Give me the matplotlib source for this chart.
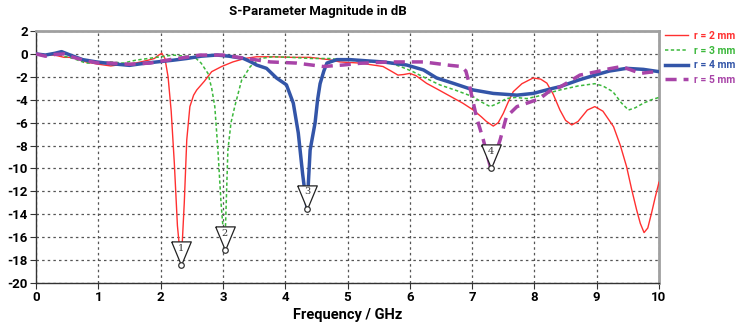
import matplotlib
matplotlib.use("Agg")
import matplotlib.pyplot as plt
from matplotlib import font_manager

# ---------------- data ----------------
red_f = [0, 0.15, 0.3, 0.45, 0.6, 0.8, 1.0, 1.2, 1.4, 1.6, 1.8, 1.9, 1.97, 2.02, 2.07, 2.12, 2.17, 2.22, 2.27, 2.33,
         2.38, 2.42, 2.47, 2.53, 2.58, 2.7, 2.82, 2.98, 3.16, 3.35, 3.54, 3.8, 4.1, 4.4, 4.7, 4.88, 5.2, 5.57, 5.7,
         5.81, 5.9, 6.0, 6.1, 6.27, 6.45, 6.65, 6.85, 7.02, 7.15, 7.23, 7.34, 7.42, 7.5, 7.58, 7.66, 7.8, 7.98, 8.1,
         8.2, 8.3, 8.41, 8.5, 8.6, 8.7, 8.85, 8.97, 9.1, 9.27, 9.38, 9.48, 9.56, 9.64, 9.7, 9.76, 9.82, 9.88, 9.94, 10.0]
red_db = [0, -0.1, -0.1, -0.3, -0.3, -0.7, -0.9, -1.05, -0.9, -0.8, -0.55, -0.4, -0.1, 0.05, -0.4, -2.0, -5.0, -9.5,
          -15.0, -18.4, -13.0, -7.5, -4.6, -3.6, -3.15, -2.4, -1.55, -1.1, -0.7, -0.4, -0.25, -0.25, -0.3, -0.3, -0.5,
          -0.7, -0.8, -1.1, -1.5, -1.85, -1.8, -1.7, -1.9, -2.57, -3.1, -3.7, -4.3, -4.9, -5.5, -5.9, -6.3, -6.0, -5.2,
          -4.2, -3.3, -2.6, -2.1, -2.2, -2.55, -3.5, -4.9, -5.8, -6.2, -5.9, -4.9, -4.6, -5.0, -6.35, -8.0, -9.85,
          -11.8, -13.6, -14.8, -15.6, -15.2, -13.9, -12.5, -11.2]

green_f = [0, 0.15, 0.3, 0.45, 0.6, 0.8, 1.0, 1.2, 1.4, 1.6, 1.8, 2.0, 2.2, 2.4, 2.55, 2.65, 2.76, 2.82, 2.87, 2.92,
           2.97, 3.03, 3.08, 3.13, 3.19, 3.3, 3.44, 3.6, 3.8, 4.1, 4.4, 4.7, 4.88, 5.2, 5.68, 5.85, 6.05, 6.25, 6.48,
           6.75, 7.02, 7.15, 7.29, 7.42, 7.55, 7.7, 7.88, 8.05, 8.2, 8.41, 8.7, 8.97, 9.1, 9.26, 9.4, 9.51, 9.62, 9.75,
           9.88, 10.0]
green_db = [0, -0.1, 0.05, -0.2, -0.4, -0.8, -0.8, -0.7, -0.8, -0.55, -0.4, -0.25, -0.1, -0.2, -0.3, -0.8, -1.7, -3.0,
            -4.6, -8.4, -13.0, -17.1, -8.4, -6.0, -4.6, -2.3, -1.1, -0.4, -0.25, -0.3, -0.4, -0.4, -0.5, -0.6, -0.8,
            -1.1, -1.55, -2.1, -2.7, -3.2, -3.75, -4.2, -4.6, -4.3, -3.9, -3.8, -3.9, -3.7, -3.45, -3.15, -2.8, -2.6,
            -2.8, -3.3, -4.3, -4.9, -4.7, -4.3, -4.0, -3.8]

blue_f = [0, 0.15, 0.3, 0.41, 0.55, 0.75, 0.97, 1.2, 1.5, 1.7, 1.94, 2.2, 2.42, 2.65, 2.9, 3.1, 3.33, 3.45, 3.54, 3.7,
          3.86, 4.02, 4.13, 4.21, 4.28, 4.35, 4.4, 4.48, 4.52, 4.56, 4.62, 4.67, 4.83, 5.04, 5.3, 5.57, 5.95, 6.22,
          6.43, 6.7, 7.02, 7.34, 7.72, 7.98, 8.3, 8.41, 8.7, 8.97, 9.2, 9.48, 9.75, 10.0]
blue_db = [0, -0.1, 0.05, 0.2, -0.1, -0.5, -0.7, -0.85, -1.0, -0.85, -0.7, -0.55, -0.4, -0.2, -0.1, -0.2, -0.4, -0.7,
           -0.97, -1.26, -2.1, -2.7, -4.3, -6.9, -10.5, -13.5, -8.4, -6.0, -4.0, -2.6, -1.5, -0.8, -0.5, -0.5, -0.6,
           -0.7, -0.97, -1.4, -2.1, -2.57, -3.15, -3.45, -3.6, -3.45, -3.0, -2.86, -2.3, -1.85, -1.5, -1.26, -1.35,
           -1.55]

purple_f = [0, 0.15, 0.3, 0.45, 0.6, 0.8, 1.0, 1.2, 1.5, 1.83, 2.15, 2.4, 2.63, 3.0, 3.38, 3.76, 4.18, 4.61, 4.93,
            5.2, 5.68, 6.22, 6.65, 6.83, 6.9, 6.94, 7.0, 7.07, 7.18, 7.3, 7.45, 7.55, 7.72, 7.88, 8.09, 8.3, 8.41,
            8.73, 9.0, 9.2, 9.4, 9.55, 9.7, 9.85, 10.0]
purple_db = [0, -0.2, -0.05, 0.0, -0.3, -0.6, -0.8, -0.8, -0.9, -0.8, -0.5, -0.3, -0.1, -0.1, -0.4, -0.7, -0.8, -1.1,
             -0.97, -0.82, -0.7, -0.7, -1.0, -1.1, -1.5, -2.3, -3.8, -5.5, -7.5, -10.0, -7.5, -5.5, -4.6, -4.3, -3.9,
             -3.0, -2.9, -1.85, -1.55, -1.3, -1.1, -1.4, -1.7, -1.6, -1.55]

series_labels = ["r = 2 mm", "r = 3 mm", "r = 4 mm", "r = 5 mm"]

marker_f = [2.33, 3.03, 4.35, 7.30]
marker_db = [-18.4, -17.1, -13.5, -10.0]
marker_labels = ["1", "2", "3", "4"]

x_ticks = list(range(0, 11))
y_ticks = list(range(-20, 3, 2))

# ---------------- style ----------------
avail = {f.name for f in font_manager.fontManager.ttflist}
fam = "Roboto" if "Roboto" in avail else "DejaVu Sans"
plt.rcParams["font.family"] = [fam, "DejaVu Sans"]
plt.rcParams["axes.unicode_minus"] = False

fig = plt.figure(figsize=(7.44, 3.24), dpi=100)
ax = fig.add_axes([36 / 744, 41 / 324, 623 / 744, 252 / 324])

c_red = "#ff3030"
c_green = "#3cb83c"
c_blue = "#3355a8"
c_purple = "#a844a8"

l1, = ax.plot(red_f, red_db, color=c_red, lw=1.0, label=series_labels[0], zorder=3)
l2, = ax.plot(green_f, green_db, color=c_green, lw=1.1, ls=(0, (2.2, 1.6)), label=series_labels[1], zorder=3)
l3, = ax.plot(blue_f, blue_db, color=c_blue, lw=2.5, label=series_labels[2], zorder=3)
l4, = ax.plot(purple_f, purple_db, color=c_purple, lw=2.5, ls=(0, (3.2, 2.0)), label=series_labels[3], zorder=3)

# markers: triangle with tip at data point
tri = [(-0.83, 2.0), (0.83, 2.0), (0.0, 0.0), (-0.83, 2.0)]
for f, d, lab in zip(marker_f, marker_db, marker_labels):
    ax.plot([f], [d], marker=tri, markersize=34, markerfacecolor="white", markeredgecolor="#222222",
            markeredgewidth=0.9, linestyle="none", zorder=5)
    ax.plot([f], [d], marker="o", markersize=4, markerfacecolor="white", markeredgecolor="#333333",
            markeredgewidth=0.9, linestyle="none", zorder=6)
    ax.annotate(lab, (f, d), xytext=(0, 12), textcoords="offset points", ha="center", va="center",
                fontsize=7, family="DejaVu Serif", color="#333333", zorder=7)

ax.set_xlim(0, 10)
ax.set_ylim(-20, 2)
ax.set_xticks(x_ticks)
ax.set_yticks(y_ticks)
ax.set_xticklabels([str(v) for v in x_ticks], fontweight="bold", fontsize=9.5)
ax.set_yticklabels([str(v) for v in y_ticks], fontweight="bold", fontsize=9.5)
ax.tick_params(direction="out", length=4, width=0.8, color="#333333", pad=2)

ax.grid(True, color="#555555", lw=0.9, ls=(0, (2, 2.5)))
ax.set_axisbelow(True)

for s in ("top", "right"):
    ax.spines[s].set_color("#a0a0a0")
    ax.spines[s].set_linewidth(2)
for s in ("left", "bottom"):
    ax.spines[s].set_color("#333333")
    ax.spines[s].set_linewidth(1)

ax.set_xlabel("Frequency / GHz", fontweight="bold", fontsize=10.5, labelpad=3)
fig.text(318 / 744, 1 - 12 / 324, "S-Parameter Magnitude in dB", ha="center", va="center",
         fontweight="bold", fontsize=9.5)

leg = fig.legend(handles=[l1, l2, l3, l4], loc="upper left", bbox_to_anchor=(665 / 744, 1 - 31 / 324),
                 frameon=False, handlelength=2.2, handletextpad=0.6, labelspacing=0.45,
                 borderaxespad=0, borderpad=0,
                 labelcolor=[c_red, c_green, c_blue, c_purple], prop={"weight": "bold", "size": 7.5})

fig.savefig("out.png", dpi=100)
